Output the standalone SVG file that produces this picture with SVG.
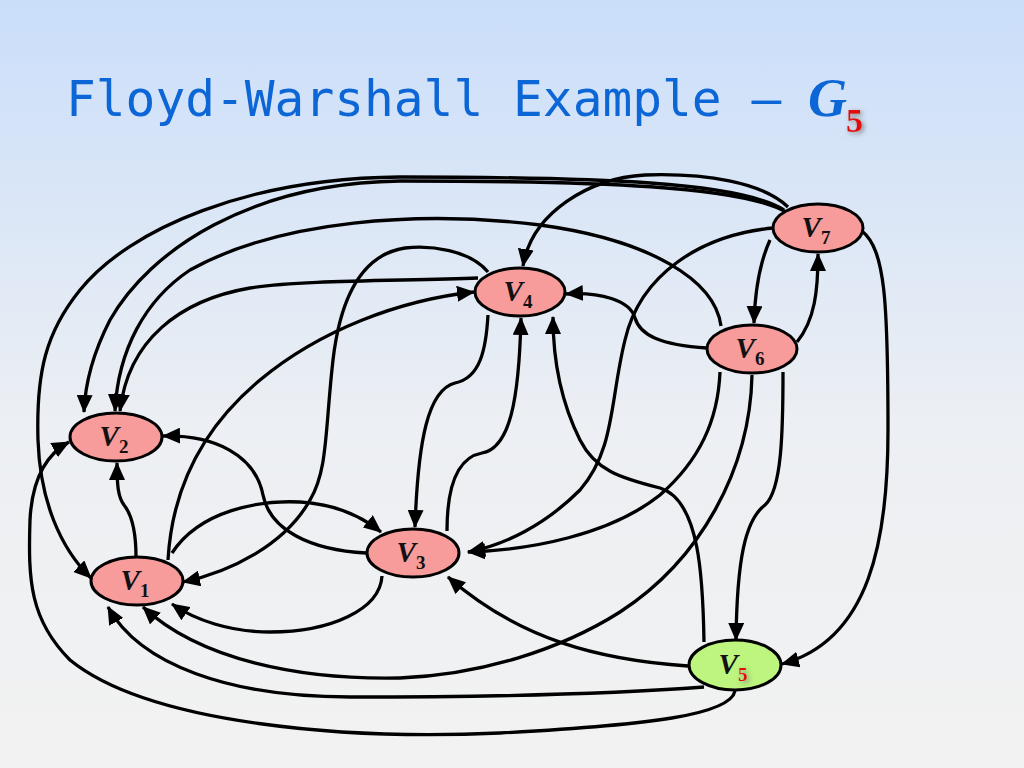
<svg xmlns="http://www.w3.org/2000/svg" width="1024" height="768" viewBox="0 0 1024 768">
  <defs>
    <linearGradient id="bg" x1="0" y1="0" x2="0" y2="1">
      <stop offset="0" stop-color="#cadefa"/>
      <stop offset="0.55" stop-color="#eceff3"/>
      <stop offset="1" stop-color="#f2f2f2"/>
    </linearGradient>
    <marker id="arr" viewBox="0 0 18 16" refX="17" refY="8" markerWidth="18" markerHeight="16" markerUnits="userSpaceOnUse" orient="auto">
      <path d="M0,0 L18,8 L0,16 z" fill="#000"/>
    </marker>
    <filter id="sh" x="-60%" y="-60%" width="220%" height="220%">
      <feDropShadow dx="2" dy="2" stdDeviation="2.5" flood-color="#777" flood-opacity="0.9"/>
    </filter>
    <style>
      .title { font-family: "DejaVu Sans Mono", monospace; font-size: 49.5px; fill: #0d66d6; }
      .g { font-family: "Liberation Serif", serif; font-style: italic; font-weight: bold; fill: #0d66d6; }
      .node { fill: #f79b9b; stroke: #000; stroke-width: 3; }
      .node5 { fill: #bdf57e; stroke: #000; stroke-width: 3; }
      .lbl { font-family: "Liberation Serif", serif; font-size: 29px; font-style: italic; font-weight: bold; fill: #111; }
      .sub { font-style: normal; font-size: 19px; }
      .subr { font-style: normal; font-size: 19px; font-weight: bold; fill: #e01010; }
      .edge { fill: none; stroke: #000; stroke-width: 3.3; marker-end: url(#arr); }
    </style>
  </defs>

  <rect x="0" y="0" width="1024" height="768" fill="url(#bg)"/>

  <g id="title">
    <text class="title" x="66" y="116">Floyd-Warshall Example –</text>
    <text class="g" x="808" y="116" font-size="54">G</text>
    <text x="846" y="132" font-family="Liberation Serif, serif" font-weight="bold" font-size="34" fill="#e01010" filter="url(#sh)">5</text>
  </g>

  <g id="connectors">
    <!-- V7 -> V1 -->
    <path class="edge" d="M784,210 C 740,182 600,177 400,177 C 250,178 130,228 80,290 C 46,332 36,372 38,440 C 40,500 60,548 91,578"/>
    <!-- V7 -> V2 -->
    <path class="edge" d="M786,212 C 740,186 600,181 400,181 C 250,183 150,250 110,320 C 92,355 85,385 84,412"/>
    <!-- V7 -> V4 -->
    <path class="edge" d="M788,207 C 762,182 705,173 645,175 C 590,178 532,212 523,266"/>
    <!-- V7 -> V3 -->
    <path class="edge" d="M773,228 C 700,235 640,275 625,340 C 610,400 615,450 580,490 C 545,525 505,545 468,552"/>
    <!-- V7 -> V6 -->
    <path class="edge" d="M770,240 C 760,262 755,290 754,323"/>
    <!-- V7 -> V5 -->
    <path class="edge" d="M862,231 C 885,250 888,300 888,430 C 888,540 870,640 782,664"/>
    <!-- V6 -> V7 -->
    <path class="edge" d="M797,342 C 815,320 818,290 818,254"/>
    <!-- V6 -> V4 -->
    <path class="edge" d="M707,348 C 660,345 640,335 635,318 C 630,300 600,292 566,294"/>
    <!-- V6 -> V2 -->
    <path class="edge" d="M721,326 C 715,280 650,240 540,225 C 420,210 280,220 190,270 C 145,300 118,350 115,411"/>
    <!-- V6 -> V3 -->
    <path class="edge" d="M720,372 C 718,420 700,460 660,495 C 610,535 530,550 468,552"/>
    <!-- V6 -> V1 -->
    <path class="edge" d="M752,375 C 750,470 700,560 620,612 C 560,650 480,675 400,678 C 300,680 200,660 143,607"/>
    <!-- V6 -> V5 -->
    <path class="edge" d="M783,372 C 783,430 782,490 765,505 C 745,520 737,560 736,640"/>
    <!-- V5 -> V4 -->
    <path class="edge" d="M704,642 C 703,580 700,500 660,488 C 620,478 595,470 580,440 C 560,400 553,360 553,317"/>
    <!-- V5 -> V3 -->
    <path class="edge" d="M688,666 C 600,660 520,640 448,577"/>
    <!-- V5 -> V1 -->
    <path class="edge" d="M704,687 C 600,695 450,697 350,697 C 230,697 140,665 108,607"/>
    <!-- V5 -> V2 -->
    <path class="edge" d="M735,691 C 730,715 650,725 500,733 C 350,740 150,725 70,660 C 30,620 28,580 30,520 C 32,480 45,455 69,442"/>
    <!-- V4 -> V2 -->
    <path class="edge" d="M478,278 C 400,281 300,280 250,288 C 180,300 128,340 120,411"/>
    <!-- V4 -> V1 -->
    <path class="edge" d="M488,272 C 470,250 430,245 405,248 C 360,255 340,300 333,360 C 325,430 328,470 310,500 C 285,545 230,572 183,582"/>
    <!-- V4 -> V3 -->
    <path class="edge" d="M488,315 C 486,350 480,378 455,383 C 428,390 418,440 415,527"/>
    <!-- V3 -> V4 -->
    <path class="edge" d="M447,531 C 447,490 455,458 482,453 C 510,448 519,400 521,318"/>
    <!-- V3 -> V2 -->
    <path class="edge" d="M366,553 C 310,550 270,530 263,495 C 255,455 215,435 163,436"/>
    <!-- V3 -> V1 -->
    <path class="edge" d="M382,576 C 380,610 330,632 270,632 C 230,632 195,620 172,604"/>
    <!-- V1 -> V2 -->
    <path class="edge" d="M136,557 C 136,530 132,515 124,505 C 118,497 117,485 117,463"/>
    <!-- V1 -> V4 -->
    <path class="edge" d="M168,560 C 172,490 200,430 260,380 C 320,330 400,300 474,292"/>
    <!-- V1 -> V3 -->
    <path class="edge" d="M172,553 C 200,510 260,500 300,502 C 335,504 360,515 381,532"/>
  </g>

  <g id="V1">
    <ellipse class="node" cx="137" cy="581" rx="46" ry="24"/>
    <text class="lbl" x="135" y="590" text-anchor="middle">V<tspan class="sub" font-weight="bold" dy="7">1</tspan></text>
  </g>
  <g id="V2">
    <ellipse class="node" cx="116" cy="437" rx="46" ry="24"/>
    <text class="lbl" x="114" y="446" text-anchor="middle">V<tspan class="sub" font-weight="bold" dy="7">2</tspan></text>
  </g>
  <g id="V3">
    <ellipse class="node" cx="413" cy="553" rx="46" ry="24"/>
    <text class="lbl" x="411" y="562" text-anchor="middle">V<tspan class="sub" font-weight="bold" dy="7">3</tspan></text>
  </g>
  <g id="V4">
    <ellipse class="node" cx="520" cy="292" rx="45" ry="24"/>
    <text class="lbl" x="518" y="301" text-anchor="middle">V<tspan class="sub" font-weight="bold" dy="7">4</tspan></text>
  </g>
  <g id="V5">
    <ellipse class="node5" cx="735" cy="665" rx="46" ry="25"/>
    <text class="lbl" x="733" y="674" text-anchor="middle">V<tspan class="subr" dy="7" filter="url(#sh)">5</tspan></text>
  </g>
  <g id="V6">
    <ellipse class="node" cx="752" cy="349" rx="45" ry="24"/>
    <text class="lbl" x="750" y="358" text-anchor="middle">V<tspan class="sub" dy="7">6</tspan></text>
  </g>
  <g id="V7">
    <ellipse class="node" cx="818" cy="228" rx="45" ry="24"/>
    <text class="lbl" x="816" y="237" text-anchor="middle">V<tspan class="sub" dy="7">7</tspan></text>
  </g>
</svg>
